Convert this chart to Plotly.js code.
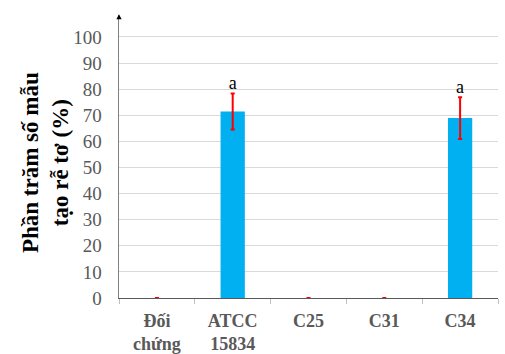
<!DOCTYPE html>
<html>
<head>
<meta charset="utf-8">
<script src="https://cdn.plot.ly/plotly-3.0.1.min.js"></script>
<style>html,body{margin:0;padding:0;background:#fff;}#chart{width:505px;height:354px;}</style>
</head>
<body>
<div id="chart"></div>
<script>
const categories = ["Đối<br>chứng", "ATCC<br>15834", "C25", "C31", "C34"];
const values = [0, 71.4, 0, 0, 68.9];
const errors = [0, 6.9, 0, 0, 8.0];
const letters = ["", "a", "", "", "a"];
const yTicks = [0, 10, 20, 30, 40, 50, 60, 70, 80, 90, 100];

const serif = "Liberation Serif";

const bars = {
  type: "bar",
  x: categories,
  y: values,
  width: 0.32,
  marker: {color: "#00B0F0"},
  error_y: {type: "data", array: errors, visible: true, color: "#FF0000", thickness: 2, width: 2},
  hoverinfo: "skip",
  showlegend: false
};

const labels = {
  type: "scatter",
  mode: "text",
  x: categories,
  y: values.map((v, i) => v + errors[i]),
  text: letters,
  textposition: "top center",
  textfont: {family: serif, size: 18, color: "#000"},
  hoverinfo: "skip",
  showlegend: false,
  cliponaxis: false
};

const layout = {
  width: 505,
  height: 354,
  margin: {l: 119, r: 7, t: 15, b: 56},
  paper_bgcolor: "#fff",
  plot_bgcolor: "#fff",
  font: {family: serif},
  xaxis: {
    type: "category",
    showgrid: false,
    showline: true,
    linecolor: "#595959",
    linewidth: 1,
    ticks: "outside",
    tickson: "boundaries",
    ticklen: 5,
    tickcolor: "#bfbfbf",
    ticklabelstandoff: 6,
    tickfont: {family: serif, size: 18, color: "#595959", weight: "bold"},
    zeroline: false,
    fixedrange: true
  },
  yaxis: {
    range: [0, 108.4],
    tickvals: yTicks,
    ticktext: yTicks.map(String),
    showgrid: true,
    gridcolor: "#d9d9d9",
    gridwidth: 1,
    showline: true,
    linecolor: "#808080",
    linewidth: 1.5,
    ticks: "",
    ticklabelstandoff: 12,
    tickfont: {family: serif, size: 19, color: "#595959"},
    zeroline: false,
    fixedrange: true
  },
  shapes: [{
    type: "path",
    xref: "paper", yref: "paper",
    path: "M -0.007 0.985 L 0.007 0.985 L 0 1.003 Z",
    fillcolor: "#000", line: {width: 0}
  }],
  annotations: [{
    xref: "paper", yref: "paper",
    x: -0.195, y: 0.477,
    xanchor: "center", yanchor: "middle",
    textangle: -90,
    showarrow: false,
    text: "<b>Phần trăm số mẫu<br>tạo rễ tơ (%)</b>",
    font: {family: serif, size: 23, color: "#000"}
  }]
};

Plotly.newPlot("chart", [bars, labels], layout, {displayModeBar: false, staticPlot: true});
</script>
</body>
</html>
